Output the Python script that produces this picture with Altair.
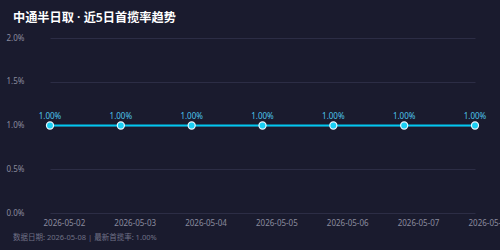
import altair as alt
import pandas as pd

dates = ["2026-05-02", "2026-05-03", "2026-05-04", "2026-05-05", "2026-05-06", "2026-05-07", "2026-05-08"]
rates = [1.00, 1.00, 1.00, 1.00, 1.00, 1.00, 1.00]
title_text = "中通半日取 · 近5日首揽率趋势"
footer_text = "数据日期: 2026-05-08  |  最新首揽率: 1.00%"

FONT = "Noto Sans, Noto Sans CJK SC"

df = pd.DataFrame({"date": dates, "rate": [r / 100 for r in rates]})
df["label"] = [f"{r:.2f}%" for r in rates]

x = alt.X("date:O", scale=alt.Scale(type="point", padding=0),
          axis=alt.Axis(title=None, labelAngle=0, labelAlign="left", labelOffset=-7,
                        labelBaseline="middle", labelOverlap=False, labelBound=False,
                        labelPadding=10, ticks=False, domain=False, grid=False,
                        labelColor="#8a8b9e", labelFontSize=8, labelFont=FONT))
y = alt.Y("rate:Q", scale=alt.Scale(domain=[0, 0.02], nice=False),
          axis=alt.Axis(title=None, format=".1%", values=[0, 0.005, 0.01, 0.015, 0.02],
                        ticks=False, domain=False, labelAlign="left", labelPadding=44,
                        labelColor="#8a8b9e", labelFontSize=8, labelFont=FONT,
                        gridColor="#2c2d45", gridWidth=1))

base = alt.Chart(df)
line = base.mark_line(color="#00c8f0", strokeWidth=2).encode(x=x, y=y)
pts = base.mark_point(filled=True, size=50, color="#1ad0f5", stroke="#e8f8ff",
                      strokeWidth=1.2, opacity=1).encode(x=x, y=y)
labels = base.mark_text(dy=-9, fontSize=8, color="#4ec3ea", font=FONT).encode(
    x=x, y=y, text="label:N")

footer = alt.Chart(pd.DataFrame({"t": [footer_text]})).mark_text(
    align="left", baseline="middle", fontSize=7.5, color="#707186", font=FONT
).encode(x=alt.value(-37), y=alt.value(200), text="t:N")

chart = alt.layer(line, pts, labels, footer).properties(
    width=425, height=175,
    title=alt.TitleParams(title_text, anchor="start", frame="group", dx=-37, offset=10,
                          fontSize=12.2, fontWeight=600, color="#ffffff", font=FONT),
    background="#1a1b2e",
    padding={"left": 50, "top": 38, "right": 25, "bottom": 37},
    autosize=alt.AutoSizeParams(type="none"),
).configure_view(stroke=None)

chart.save("out.html", embed_options={"renderer": "svg", "actions": False})
